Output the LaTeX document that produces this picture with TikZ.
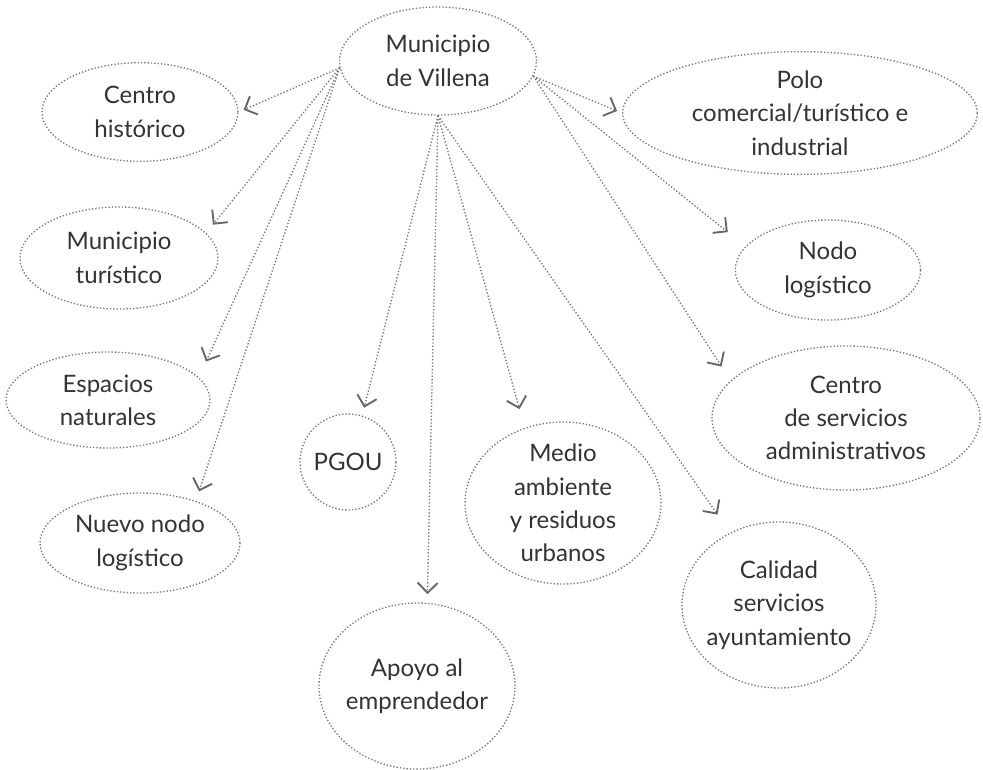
\documentclass[tikz,border=0pt]{standalone}
\usepackage{fontspec}
\setmainfont{Lato}
\usepackage{tikz}
\usetikzlibrary{arrows.meta,shapes.geometric}
\definecolor{dotgray}{HTML}{777777}
\definecolor{tipgray}{HTML}{666666}
\definecolor{inkgray}{HTML}{333333}

\begin{document}
\begin{tikzpicture}[x=0.75pt, y=-0.75pt,
  topic/.style={ellipse, draw=dotgray, line width=1pt, dash pattern=on 1pt off 1.5pt,
                align=center, inner sep=-12pt, text=inkgray,
                font=\fontsize{18}{25}\selectfont},
  roundtopic/.style={topic, circle},
  arr/.style={draw=dotgray, line width=1pt, dash pattern=on 1pt off 1.5pt,
              -{Straight Barb[length=7.5pt,width=15pt,line width=1.4pt,color=tipgray]}}
]
\useasboundingbox (0,0) rectangle (983,769);

\node[topic, minimum width=147.75pt, minimum height=81pt] (vil) at (438,61) {Municipio\\de Villena};
\node[topic, minimum width=147pt, minimum height=74pt] (ch) at (140,112) {Centro\\histórico};
\node[topic, minimum width=266pt, minimum height=92pt] (polo) at (800,113) {Polo\\comercial/turístico e\\industrial};
\node[topic, minimum width=148.5pt, minimum height=76.5pt] (mt) at (119,258) {Municipio\\turístico};
\node[topic, minimum width=139pt, minimum height=75pt] (nodo) at (828,270) {Nodo\\logístico};
\node[topic, minimum width=153pt, minimum height=72pt] (en) at (108,400) {Espacios\\naturales};
\node[topic, minimum width=201pt, minimum height=108pt] (cs) at (846,418) {Centro\\de servicios\\administrativos};
\node[roundtopic, minimum size=72pt] (pgou) at (348,462) {PGOU};
\node[topic, minimum width=147pt, minimum height=121.5pt] (medio) at (563,503) {Medio\\ambiente\\y residuos\\urbanos};
\node[topic, minimum width=150pt, minimum height=75pt] (nuevo) at (140,543) {Nuevo nodo\\logístico};
\node[topic, minimum width=145.5pt, minimum height=124.5pt] (cal) at (779,605) {Calidad\\servicios\\ayuntamiento};
\node[topic, minimum width=147pt, minimum height=124.5pt] (apoyo) at (417,686) {Apoyo al\\emprendedor};

\draw[arr, shorten >=4pt] (vil.184) -- (ch.0);
\draw[arr, shorten >=8pt] (vil.184) -- (mt.16);
\draw[arr, shorten >=13pt] (vil.184) -- (en.14);
\draw[arr, shorten >=7.5pt] (vil.184) -- (nuevo.37);
\draw[arr, shorten >=6pt] (vil.south) -- (pgou.73);
\draw[arr, shorten >=6.5pt] (vil.south) -- (apoyo.83);
\draw[arr, shorten >=14.5pt] (vil.south) -- (medio.117);
\draw[arr, shorten >=16.5pt] (vil.south) -- (cal.124);
\draw[arr, shorten >=4pt] (vil.351) -- (polo.180);
\draw[arr, shorten >=17pt] (vil.351) -- (nodo.164);
\draw[arr, shorten >=12.5pt] (vil.351) -- (cs.162);
\end{tikzpicture}
\end{document}
